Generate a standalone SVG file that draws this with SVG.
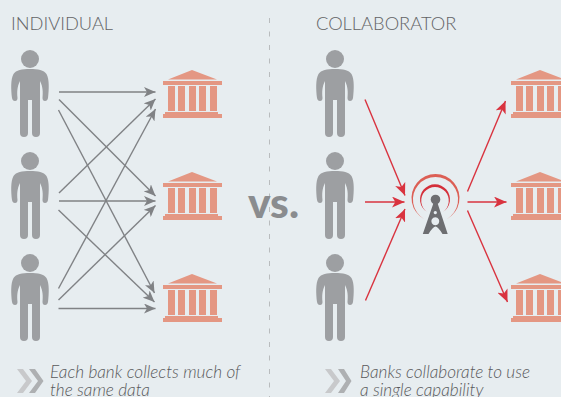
<svg xmlns="http://www.w3.org/2000/svg" width="561" height="397" viewBox="0 0 561 397">
<style>
.t{font-family:Lato,"Liberation Sans",sans-serif;fill:#636466}
.h{font-size:18.300px;font-weight:300}
.c{font-size:17.200px;font-style:italic;font-weight:300;fill:#58595b}
.g{stroke:#808285;stroke-width:1.4;fill:none}
.r{stroke:#d9333f;stroke-width:1.4;fill:none}
</style>
<defs>
<marker id="ag" viewBox="0 0 12 10" refX="11.500" refY="5" markerWidth="12" markerHeight="10" markerUnits="userSpaceOnUse" orient="auto"><path d="M0 0L11.500 5L0 10L3 5Z" fill="#808285"/></marker>
<marker id="ar" viewBox="0 0 12 10" refX="11.500" refY="5" markerWidth="13" markerHeight="11" markerUnits="userSpaceOnUse" orient="auto"><path d="M0 0L11.500 5L0 10L3 5Z" fill="#d9333f"/></marker>
<g id="person" fill="#9d9fa2"><circle cx="30" cy="59" r="9"/><path d="M30 69C22 69 16 70 13.500 74C10.500 79 11 90 12 98Q12.500 101 15 101Q17.500 101 17.500 98C17 92 17 87 20 81V133Q20 137 24 137Q28 137 28 133V100H32V133Q32 137 36 137Q40 137 40 133V81C43 87 43 92 42.500 98Q42.500 101 45 101Q47.500 101 48 98C49 90 49.500 79 46.500 74C44 70 38 69 30 69Z"/></g>
<g id="bank" fill="#e49783"><path d="M168 79.500L192 70L217 79.500Z"/><rect x="163" y="81" width="59" height="4"/><rect x="168" y="86" width="7" height="25"/><rect x="178" y="86" width="7" height="25"/><rect x="189" y="86" width="7" height="25"/><rect x="199" y="86" width="7" height="25"/><rect x="210" y="86" width="7" height="25"/><rect x="165" y="112" width="53" height="2"/><rect x="163" y="114" width="59" height="4"/></g>
</defs>
<rect width="561" height="397" fill="#e7edf0"/>
<line x1="269.500" y1="18" x2="269.500" y2="397" stroke="#b9bcbe" stroke-dasharray="5 8.500"/>
<text class="t h" x="11" y="30">INDIVIDUAL</text>
<text class="t h" x="316" y="30">COLLABORATOR</text>
<text x="248" y="218" font-family="Lato,'Liberation Sans',sans-serif" font-weight="900" font-size="42.500" fill="#8a8c8f">vs.</text>
<g id="connectors">
<path class="g" marker-end="url(#ag)" d="M59 92H155.500"/>
<path class="g" marker-end="url(#ag)" d="M59 99.500L155.500 196"/>
<path class="g" marker-end="url(#ag)" d="M58.500 110L154.500 293"/>
<path class="g" marker-end="url(#ag)" d="M59 193L155.500 99"/>
<path class="g" marker-end="url(#ag)" d="M59 201H155.500"/>
<path class="g" marker-end="url(#ag)" d="M58.500 210L154.500 302"/>
<path class="g" marker-end="url(#ag)" d="M58.500 288.500L155.500 109"/>
<path class="g" marker-end="url(#ag)" d="M58.500 300L155.500 205.500"/>
<path class="g" marker-end="url(#ag)" d="M58.500 308.500H155.500"/>
<path class="r" marker-end="url(#ar)" d="M365 99.500L405 195.500"/>
<path class="r" marker-end="url(#ar)" d="M365 202H404.500"/>
<path class="r" marker-end="url(#ar)" d="M365.500 300.500L405 209"/>
<path class="r" marker-end="url(#ar)" d="M467.500 191.500L505.500 101"/>
<path class="r" marker-end="url(#ar)" d="M467.500 202H506.500"/>
<path class="r" marker-end="url(#ar)" d="M467.500 210.500L507.500 302"/>
</g>
<g id="p1"><use href="#person"/></g>
<g id="p2"><use href="#person" y="102"/></g>
<g id="p3"><use href="#person" y="204"/></g>
<g id="p4"><use href="#person" x="305"/></g>
<g id="p5"><use href="#person" x="305" y="102"/></g>
<g id="p6"><use href="#person" x="305" y="204"/></g>
<g id="b1"><use href="#bank"/></g>
<g id="b2"><use href="#bank" y="102"/></g>
<g id="b3"><use href="#bank" y="204"/></g>
<g id="b4"><use href="#bank" x="348"/></g>
<g id="b5"><use href="#bank" x="348" y="102"/></g>
<g id="b6"><use href="#bank" x="348" y="204"/></g>
<g id="tower">
<path d="M424 219A24 24 0 1 1 447 219A22.600 22.600 0 1 0 424 219Z" fill="#dc5f55"/>
<path d="M427 212A15 15 0 1 1 443 212A13.800 13.800 0 1 0 427 212Z" fill="#d42f3a"/>
<circle cx="435.500" cy="199.500" r="4.800" fill="#6d6e71"/>
<path fill-rule="evenodd" d="M433.500 203H437.500L447.700 234H442.500Q438 226.500 435.500 226.500Q433 226.500 428.500 234H422.800ZM435.300 211a1.600 1.600 0 1 0 .01 0ZM435.300 217.200a4 4 0 1 0 .01 0Z" fill="#6d6e71"/>
</g>
<g id="cap1"><path d="M17 369H23L32 381L23 393H17L26 381Z" fill="#c8c9cb"/><path d="M29 369H35L43.500 381L35 393H29L38 381Z" fill="#aeb0b2"/>
<text class="t c" x="50" y="378">Each bank collects much of</text><text class="t c" x="50" y="395.500">the same data</text></g>
<g id="cap2"><path d="M325 369H331L340 381L331 393H325L334 381Z" fill="#c8c9cb"/><path d="M338 369H344L351.500 381L344 393H338L346 381Z" fill="#aeb0b2"/>
<text class="t c" x="360" y="378">Banks collaborate to use</text><text class="t c" x="360" y="395.500">a single capability</text></g>
</svg>
